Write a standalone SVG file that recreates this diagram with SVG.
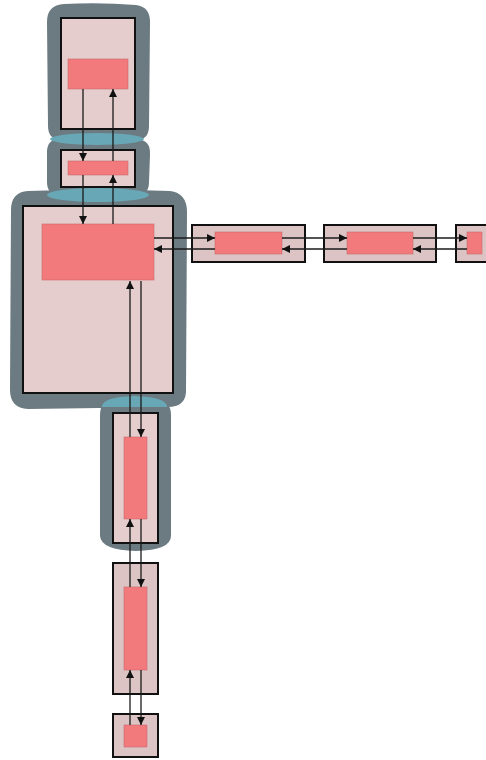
<svg xmlns="http://www.w3.org/2000/svg" width="486" height="760" viewBox="0 0 486 760">
<style>
.blob{fill:#6c7b82}
.join{fill:#68a7b5}
.box{fill:#e6cdcd;stroke:#111;stroke-width:2}
.sbox{fill:#dcc4c4;stroke:#111;stroke-width:2}
.core{fill:#f27a7d;stroke:#c86a6c;stroke-width:0.6}
.edge{stroke:#1a1a1a;stroke-width:1.3;fill:none;marker-end:url(#ah)}
</style>
<defs>
<marker id="ah" viewBox="0 0 10 10" refX="10" refY="5" markerWidth="10" markerHeight="8" markerUnits="userSpaceOnUse" orient="auto">
<path d="M0,0 L10,5 L0,10 z" fill="#111"/>
</marker>
</defs>
<rect width="486" height="760" fill="#fff"/>
<g id="clusters">
<path class="blob" d="M64,4 Q100,2 136,5 Q151,7 150,24 L149,126 Q149,140 136,140 L62,140 Q48,140 48,126 L47,22 Q47,5 64,4 z"/>
<path class="blob" d="M60,139 L137,139 Q151,140 150,155 L149,182 Q149,195 137,195 L60,195 Q47,195 47,182 L47,152 Q47,139 60,139 z"/>
<path class="blob" d="M28,191 Q100,188 170,191 Q187,193 187,212 L186,392 Q185,407 168,407 Q100,408 28,409 Q10,408 10,390 L11,210 Q11,192 28,191 z"/>
<path class="blob" d="M114,399 L157,399 Q172,400 171,418 L171,536 Q171,550 136,551 Q101,550 100,536 L100,416 Q100,399 114,399 z"/>
<ellipse class="join" cx="97" cy="139" rx="47" ry="6"/>
<ellipse class="join" cx="98" cy="195" rx="51" ry="7"/>
<path class="join" d="M102,407 Q102,397 134,396 Q167,397 167,407 z"/>
</g>
<g id="n1"><rect class="box" x="61" y="18" width="74" height="111"/><rect class="core" x="68" y="59" width="60" height="30"/></g>
<g id="n2"><rect class="box" x="61" y="150" width="74" height="37"/><rect class="core" x="68" y="161" width="60" height="14"/></g>
<g id="n3"><rect class="box" x="23" y="206" width="150" height="187"/><rect class="core" x="42" y="224" width="112" height="56"/></g>
<g id="n4"><rect class="sbox" x="192" y="225" width="113" height="37"/><rect class="core" x="215" y="232" width="67" height="22"/></g>
<g id="n5"><rect class="sbox" x="324" y="225" width="112" height="37"/><rect class="core" x="347" y="232" width="66" height="22"/></g>
<g id="n6"><rect class="sbox" x="456" y="225" width="34" height="37"/><rect class="core" x="467" y="232" width="15" height="22"/></g>
<g id="n7"><rect class="box" x="113" y="413" width="45" height="130"/><rect class="core" x="124" y="437" width="23" height="82"/></g>
<g id="n8"><rect class="sbox" x="113" y="563" width="45" height="131"/><rect class="core" x="124" y="587" width="23" height="83"/></g>
<g id="n9"><rect class="sbox" x="113" y="714" width="45" height="43"/><rect class="core" x="124" y="725" width="23" height="22"/></g>
<g id="connectors">
<line class="edge" x1="83" y1="89" x2="83" y2="161"/>
<line class="edge" x1="113" y1="161" x2="113" y2="89"/>
<line class="edge" x1="83" y1="175" x2="83" y2="224"/>
<line class="edge" x1="113" y1="224" x2="113" y2="175"/>
<line class="edge" x1="154" y1="238" x2="215" y2="238"/>
<line class="edge" x1="215" y1="249" x2="154" y2="249"/>
<line class="edge" x1="282" y1="238" x2="347" y2="238"/>
<line class="edge" x1="347" y1="249" x2="282" y2="249"/>
<line class="edge" x1="413" y1="238" x2="467" y2="238"/>
<line class="edge" x1="467" y1="249" x2="413" y2="249"/>
<line class="edge" x1="130" y1="437" x2="130" y2="281"/>
<line class="edge" x1="141" y1="281" x2="141" y2="437"/>
<line class="edge" x1="130" y1="587" x2="130" y2="519"/>
<line class="edge" x1="141" y1="519" x2="141" y2="587"/>
<line class="edge" x1="130" y1="725" x2="130" y2="670"/>
<line class="edge" x1="141" y1="670" x2="141" y2="725"/>
</g>
</svg>
